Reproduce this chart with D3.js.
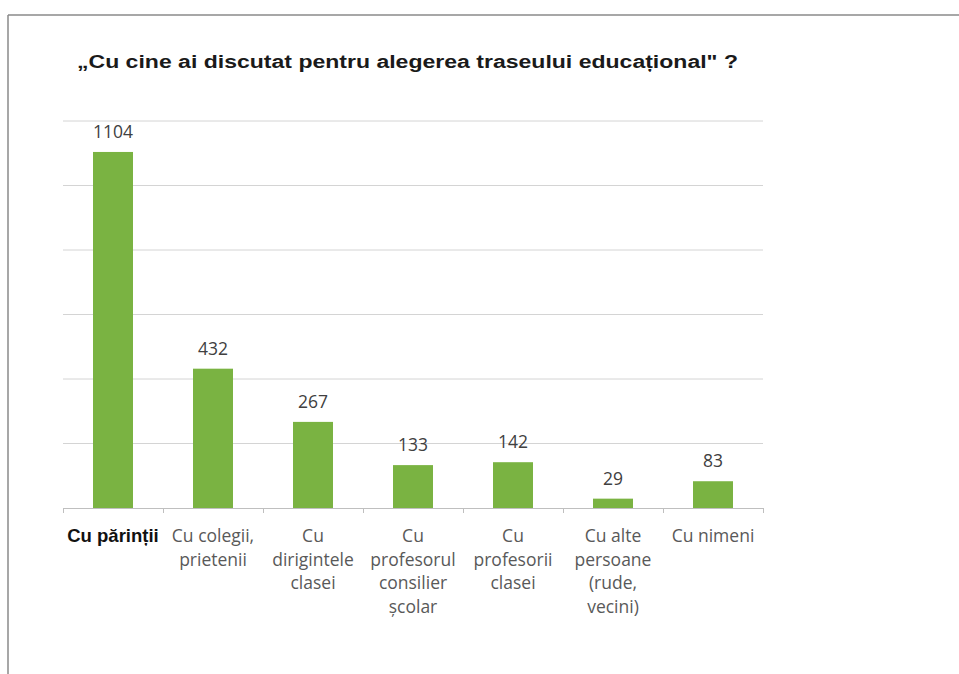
<!DOCTYPE html>
<html><head><meta charset="utf-8">
<script src="https://cdn.jsdelivr.net/npm/d3@7/dist/d3.min.js"></script>
<style>body{margin:0;background:#fff}svg{display:block}</style>
</head><body>
<script>
const categories = [
  ["Cu părinții"],
  ["Cu colegii,", "prietenii"],
  ["Cu", "dirigintele", "clasei"],
  ["Cu", "profesorul", "consilier", "școlar"],
  ["Cu", "profesorii", "clasei"],
  ["Cu alte", "persoane", "(rude,", "vecini)"],
  ["Cu nimeni"]
];
const values = [1104, 432, 267, 133, 142, 29, 83];
const yTicks = [0, 200, 400, 600, 800, 1000, 1200];
const title = "„Cu cine ai discutat pentru alegerea traseului educațional\" ?";

const W = 959, H = 674;
const svg = d3.select("body").append("svg").attr("width", W).attr("height", H);

// frame
svg.append("line").attr("x1", 8).attr("x2", W).attr("y1", 15).attr("y2", 15).attr("stroke", "#8a8a8a").attr("stroke-width", 1.5);
svg.append("line").attr("x1", 8).attr("x2", 8).attr("y1", 15).attr("y2", H).attr("stroke", "#8a8a8a").attr("stroke-width", 1.5);

svg.append("text").attr("x", 77).attr("y", 68).text(title)
  .attr("font-family", "Liberation Sans, Arial, sans-serif").attr("font-weight", "bold")
  .attr("font-size", 18).attr("fill", "#1a1a1a").attr("textLength", 661).attr("lengthAdjust", "spacingAndGlyphs");

const x = d3.scaleBand().domain(d3.range(categories.length)).range([63, 763]).paddingInner(0.6).paddingOuter(0.3);
const y = d3.scaleLinear().domain([0, 1200]).range([508, 121]);

// gridlines
svg.append("g").selectAll("line").data(yTicks.slice(1)).join("line")
  .attr("x1", 63).attr("x2", 763).attr("y1", d => y(d)).attr("y2", d => y(d))
  .attr("stroke", "#d4d4d4").attr("stroke-width", 1);

// bars
svg.append("g").selectAll("rect").data(values).join("rect")
  .attr("x", (d, i) => x(i)).attr("width", x.bandwidth())
  .attr("y", d => y(d)).attr("height", d => y(0) - y(d))
  .attr("fill", "#7ab342");

// baseline axis with ticks
const xAxis = d3.axisBottom(d3.scaleLinear().domain([0, categories.length]).range([63, 763]))
  .tickValues(d3.range(categories.length + 1)).tickSize(5).tickFormat("");
const ax = svg.append("g").attr("transform", "translate(0,508)").call(xAxis);
ax.select(".domain").attr("stroke", "#bfbfbf");
ax.selectAll(".tick line").attr("stroke", "#bfbfbf");

// value labels
svg.append("g").selectAll("text").data(values).join("text")
  .attr("x", (d, i) => x(i) + x.bandwidth() / 2).attr("y", d => y(d) - 14)
  .attr("text-anchor", "middle").attr("font-family", "Open Sans, sans-serif").attr("font-size", 17.5)
  .attr("fill", "#404040").text(d => d);

// category labels
const cg = svg.append("g");
categories.forEach((lines, i) => {
  const cx = x(i) + x.bandwidth() / 2;
  const t = cg.append("text").attr("x", cx).attr("y", 542).attr("text-anchor", "middle")
    .attr("font-family", i === 0 ? "Liberation Sans, Arial, sans-serif" : "Open Sans, sans-serif")
    .attr("font-weight", i === 0 ? "bold" : "normal")
    .attr("font-size", i === 0 ? 18.5 : 17.5).attr("fill", i === 0 ? "#111" : "#595959");
  lines.forEach((l, j) => t.append("tspan").attr("x", cx).attr("dy", j === 0 ? 0 : 23.5).text(l));
});
</script>
</body></html>
